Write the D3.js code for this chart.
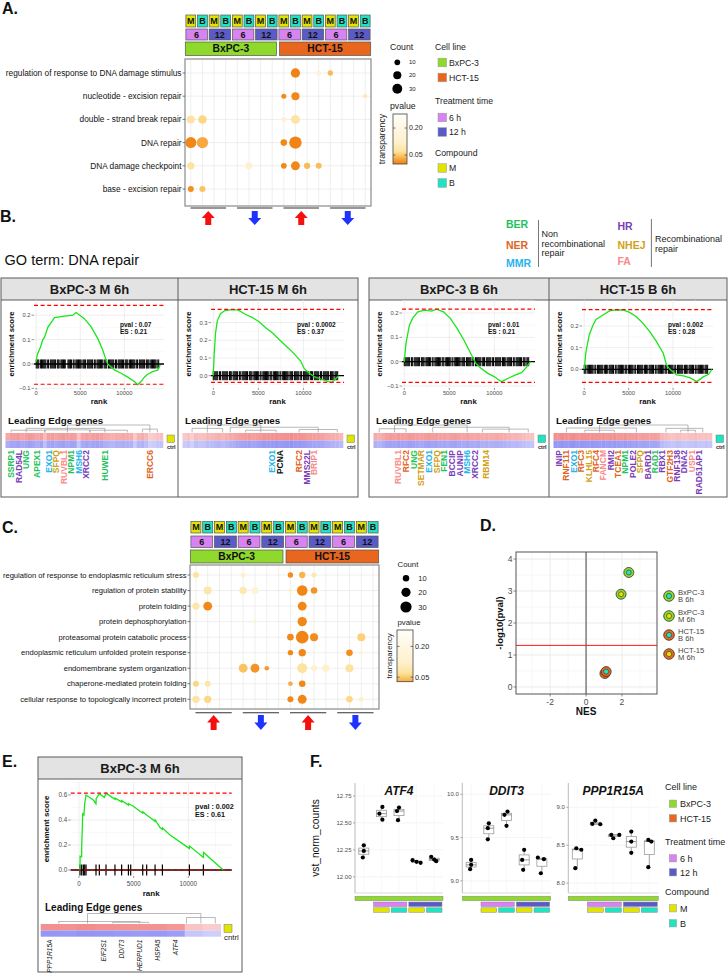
<!DOCTYPE html>
<html><head><meta charset="utf-8">
<script src="https://cdn.jsdelivr.net/npm/d3@7/dist/d3.min.js"></script>
<style>
html,body{margin:0;padding:0;background:#fff;}
svg{display:block;font-family:"Liberation Sans",Arial,Helvetica,sans-serif;}
</style></head><body>
<svg id="fig" width="728" height="975"></svg>
<script>
// ================= DATA =================
const compounds = ["M","B","M","B","M","B","M","B","M","B","M","B","M","B","M","B"];
const times = ["6","6","12","12","6","6","12","12","6","6","12","12","6","6","12","12"];
const cellLines = ["BxPC-3","BxPC-3","BxPC-3","BxPC-3","BxPC-3","BxPC-3","BxPC-3","BxPC-3",
                   "HCT-15","HCT-15","HCT-15","HCT-15","HCT-15","HCT-15","HCT-15","HCT-15"];
const directions = ["up","up","up","up","down","down","down","down","up","up","up","up","down","down","down","down"];

const termsA = ["regulation of response to DNA damage stimulus","nucleotide - excision repair",
  "double - strand break repair","DNA repair","DNA damage checkpoint","base - excision repair"];
const dotsA = [
  [0,9,24,0.003],[0,11,7,0.14],[0,12,8,0.04],
  [1,8,7,0.01],[1,9,18,0.006],[1,15,5,0.09],
  [2,0,18,0.075],[2,1,20,0.06],[2,8,6,0.12],[2,9,22,0.075],
  [3,0,34,0.006],[3,1,36,0.028],[3,8,12,0.008],[3,9,43,0.004],
  [4,0,15,0.07],[4,5,14,0.13],[4,8,9,0.008],[4,9,22,0.006],[4,10,11,0.04],[4,11,10,0.042],
  [5,0,10,0.012],[5,1,10,0.045]
];
const termsC = ["regulation of response to endoplasmic reticulum stress","regulation of protein stability",
  "protein folding","protein dephosphorylation","proteasomal protein catabolic process",
  "endoplasmic reticulum unfolded protein response","endomembrane system organization",
  "chaperone-mediated protein folding","cellular response to topologically incorrect protein"];
const dotsC = [
  [0,0,10,0.07],[0,4,7,0.12],[0,8,8,0.01],[0,9,11,0.035],[0,10,7,0.09],
  [1,1,18,0.08],[1,4,15,0.09],[1,5,14,0.15],[1,8,4,0.12],[1,9,31,0.005],[1,10,12,0.015],
  [2,0,15,0.08],[2,1,22,0.008],[2,9,22,0.006],
  [3,5,4,0.15],[3,9,24,0.006],
  [4,8,12,0.008],[4,9,44,0.004],[4,10,18,0.01],[4,14,18,0.055],
  [5,8,8,0.008],[5,9,15,0.006],[5,13,12,0.012],[5,14,4,0.14],
  [6,4,22,0.045],[6,5,22,0.015],[6,6,6,0.02],[6,9,28,0.07],[6,10,10,0.13],[6,11,15,0.13],[6,13,18,0.07],
  [7,0,10,0.06],[7,1,10,0.08],[7,8,6,0.03],[7,9,12,0.008],
  [8,0,15,0.075],[8,1,15,0.06],[8,8,10,0.008],[8,9,22,0.006],[8,13,12,0.06],[8,14,7,0.12]
];
const countBreaks = [10,20,30];
const pvalBreaks = [0.20,0.05];
const legendCell = ["BxPC-3","HCT-15"];
const legendTime = [["6 h","6"],["12 h","12"]];
const legendComp = ["M","B"];

const repairNonRec = ["BER","NER","MMR"];
const repairRec = ["HR","NHEJ","FA"];
const gseaTitles = ["BxPC-3 M 6h","HCT-15 M 6h","BxPC-3 B 6h","HCT-15 B 6h"];
const gseaPval = ["0.07","0.0002","0.01","0.002"];
const gseaES = ["0.21","0.37","0.21","0.28"];
const rankTicks = [0,5000,10000];
const curveBM = [[0,0.01],[110,0.037],[490,0.07],[750,0.1],[950,0.11],[1320,0.15],[2080,0.19],[3000,0.195],
  [4150,0.2],[4530,0.211],[5470,0.186],[6230,0.152],[6980,0.105],[7550,0.057],[7930,0.016],[8120,0],
  [8870,-0.024],[9630,-0.038],[10380,-0.054],[11140,-0.072],[11510,-0.085],[11890,-0.072],[12270,-0.054],
  [12650,-0.042],[13210,-0.031],[13780,-0.025],[14080,-0.004]];
const curveHM = [[0,0],[100,0.12],[250,0.24],[450,0.31],[800,0.35],[1300,0.368],[2100,0.373],[2800,0.37],
  [3540,0.347],[4300,0.33],[5080,0.305],[5850,0.27],[6620,0.24],[7390,0.2],[8160,0.164],[8930,0.126],
  [9700,0.083],[10080,0.041],[10660,0.013],[11230,-0.006],[12000,-0.02],[12770,-0.034],[13160,-0.038],
  [13540,-0.02],[13900,0]];
const curveBB = [[0,0],[190,0.075],[570,0.15],[950,0.18],[1510,0.205],[2270,0.212],[3030,0.208],[3590,0.216],
  [4350,0.205],[5110,0.178],[5860,0.137],[6610,0.089],[7370,0.034],[7940,-0.007],[8510,-0.027],[9270,-0.048],
  [10020,-0.062],[10770,-0.082],[11530,-0.068],[12280,-0.055],[13040,-0.044],[13610,-0.02],[13990,0]];
const curveHB = [[0,0],[190,0.08],[570,0.16],[950,0.2],[1320,0.23],[2080,0.25],[2840,0.27],[3600,0.274],
  [4350,0.274],[5120,0.263],[5870,0.243],[6620,0.212],[7380,0.174],[8140,0.128],[8900,0.074],[9270,0.02],
  [9650,0],[10410,-0.026],[11170,-0.03],[11930,-0.04],[12680,-0.057],[13450,-0.034],[14010,-0.023],[14380,0]];
const hitsBM = "0-3,5-11,13-14,16-22,24-26,28-33,36-40,42-43,45-51,53-56,58-64,66-67,69-75,77-80,82-88,90-91,93-99,101-104,106-112,114-115,117-123,125-128,130-136,138-139";
const hitsHM = "0-5,7-8,10-16,18-20,22-27,29-30,32-38,40-43,45-50,52-53,55-61,63-65,67-72,74-75,77-83,85-88,90-95,97-98,100-106,108-110,112-117,119-120,122-128,130-133,135-138";
const hitsBB = "0-6,8-9,11-17,19-22,24-29,31-32,34-40,42-44,46-51,53-54,56-62,64-67,69-74,76-77,79-85,87-89,91-96,98-99,101-107,109-112,114-119,121-122,124-130,132-134,136-138";
const hitsHB = "0-2,4-10,12-13,15-21,23-26,28-33,35-36,38-44,46-48,50-55,57-58,60-66,68-71,73-78,80-81,83-89,91-93,95-100,102-103,105-111,113-116,118-123,125-126,128-134,136-139";
const dashBM = [0.24,-0.083], dashHM = [0.375,-0.038], dashBB = [0.216,-0.085], dashHB = [0.276,-0.06];
const yLimBM = [-0.0984,0.2623], yLimHM = [-0.0695,0.4277], yLimBB = [-0.108,0.2534], yLimHB = [-0.0864,0.3201];
const yTicksBM = [-0.1,0,0.1,0.2], yTicksHM = [0,0.1,0.2,0.3], yTicksBB = [-0.1,0,0.1,0.2], yTicksHB = [0,0.1,0.2];
const genesBM = [["SSRP1",1,"BER"],["RAD54L",3,"HR"],["UNG",5,"BER"],["APEX1",8,"BER"],["EXO1",11,"MMR"],
  ["SFPQ",13,"NHEJ"],["RUVBL1",15,"FA"],["NPM1",17,"BER"],["MSH6",19,"MMR"],["XRCC2",21,"HR"],
  ["HUWE1",26,"BER"],["ERCC6",38,"NER"]];
const genesHM = [["EXO1",23,"MMR"],["PCNA",25,null],["RFC2",30,"NER"],["MMS22L",32,"HR"],["BRIP1",34,"FA"]];
const genesBB = [["RUVBL1",6,"FA"],["RFC2",8,"NER"],["UNG",10,"BER"],["SETMAR",12,"NHEJ"],["EXO1",14,"MMR"],
  ["SFPQ",16,"NHEJ"],["FEN1",18,"BER"],["BCCIP",20,"HR"],["AUNIP",22,"HR"],["MSH6",24,"MMR"],
  ["XRCC2",26,"HR"],["RBM14",29,"NHEJ"]];
const genesHB = [["INIP",1,"HR"],["RNF111",3,"NER"],["EXO1",5,"MMR"],["RFC3",7,"NER"],["KLHL15",9,"NHEJ"],
  ["RFC4",11,"NER"],["FANCM",13,"FA"],["RMI2",15,"HR"],["TCEA1",17,"NER"],["NPM1",19,"BER"],
  ["POLE2",21,"HR"],["SFPQ",23,"NHEJ"],["BARD1",25,"HR"],["RAD1",27,"BER"],["RBX1",29,"HR"],
  ["GTF2H3",31,"NER"],["RNF138",33,"HR"],["DNA2",35,"HR"],["USP1",37,"FA"],["RAD51AP1",39,"HR"]];
const heatBM = [.62,.7,.68,.72,.66,.7,.74,.7,.64,.7,.45,.68,.72,.66,.7,.74,.68,.72,.7,.4,.66,.7,.64,.7,.72,.68,.6,.58,.55,.6,.58,.62,.6,.58,.35,.55,.58,.48,.3,.34,.4,.42];
const heatHM = [.35,.4,.3,.45,.4,.42,.5,.48,.52,.55,.5,.55,.6,.62,.66,.7,.72,.75,.7,.72,.75,.8,.78,.8,.82,.78,.8,.82,.85,.8,.8,.78,.75,.72,.7,.7,.68,.62,.6,.58,.55,.5];
const heatBB = [.6,.55,.62,.7,.72,.7,.74,.72,.7,.75,.72,.7,.68,.72,.74,.7,.72,.68,.7,.66,.7,.72,.68,.66,.7,.64,.62,.66,.6,.62,.58,.6,.62,.6,.58,.55,.5,.52,.48,.45,.42,.4];
const heatHB = [.82,.8,.84,.8,.82,.85,.8,.82,.8,.78,.82,.8,.78,.8,.76,.78,.8,.76,.74,.78,.75,.72,.74,.7,.72,.7,.68,.7,.66,.5,.45,.42,.4,.45,.42,.38,.4,.42,.45,.4,.38,.42,.4];
const dendBM = [[16,38,1],[5,26,0.55],[36,40,0.45],[1,10,0.3],[10,22,0.35],[22,32,0.3]];
const dendHM = [[6,20,1],[2,10,0.55],[12,35,0.7],[30,40,0.4],[16,24,0.3]];
const dendBB = [[5,24,1],[1,8,0.5],[15,35,0.7],[28,40,0.45]];
const dendHB = [[12,36,1],[3,22,0.6],[30,40,0.55],[8,16,0.3],[34,38,0.3]];

const dNames = [["BxPC-3","B 6h"],["BxPC-3","M 6h"],["HCT-15","B 6h"],["HCT-15","M 6h"]];
const dCell = ["BxPC-3","BxPC-3","HCT-15","HCT-15"];
const dComp = ["B","M","B","M"];
const dNES = [2.38,1.95,1.12,1.05];
const dLogP = [3.58,2.9,0.48,0.42];
const dThreshold = 1.3;
const dXTicks = [-2,0,2], dYTicks = [0,1,2,3,4];

const eTitle = "BxPC-3 M 6h", ePval = "0.002", eES = "0.61";
const curveE = [[0,0],[90,0.005],[100,0.11],[240,0.105],[250,0.2],[300,0.33],[340,0.45],[450,0.44],[520,0.53],
  [640,0.6],[1310,0.56],[1555,0.53],[1570,0.57],[1860,0.61],[2320,0.58],[2470,0.615],[3290,0.565],[3300,0.575],
  [3900,0.545],[3910,0.555],[4520,0.52],[4530,0.53],[4970,0.51],[5580,0.47],[5830,0.455],[5840,0.465],
  [6190,0.44],[6960,0.39],[6970,0.4],[7410,0.34],[7630,0.325],[7640,0.335],[8330,0.28],[9850,0.187],
  [10100,0.172],[10110,0.192],[11380,0.1],[11390,0.14],[13200,0]];
const hitsE = [90,245,400,520,640,1555,1860,2470,3290,3900,4520,4730,5830,6190,6960,7630,10100,11380];
const dashE = [0.615,0];
const yTicksE = [0,0.2,0.4,0.6];
const genesE = [["PPP1R15A",0],["EIF2S1",3],["DDIT3",4],["HERPUD1",5],["HSPA5",6],["ATF4",7]];
const heatE = [.82,.8,.84,.82,.8,.78,.8,.76,.38,.32];
const dendE = [[2.1,8.4,1],[0.5,5,0.2],[7.6,9.2,0.6],[3.5,5.5,0.12]];

const fGenes = ["ATF4","DDIT3","PPP1R15A"];
const fGroups = ["ctrl","M 6h","B 6h","M 12h","B 12h"];
const fTime = [null,"6","6","12","12"];
const fComp = [null,"M","B","M","B"];
const fATF4 = [[12.293,12.24,12.179],[12.648,12.586,12.53],[12.642,12.61,12.525],[12.154,12.139,12.13],[12.185,12.16,12.145]];
const fDDIT3 = [[9.242,9.185,9.135],[9.665,9.608,9.48],[9.8,9.762,9.635],[9.358,9.242,9.127],[9.27,9.25,9.088]];
const fPPP = [[8.46,8.44,8.197],[8.78,8.825,8.776],[8.636,8.592,8.636],[8.68,8.548,8.4],[8.57,8.548,8.21]];
const jATF4 = [[0,0,-1],[1,-2,1],[0,-2,-1],[-4,0,4],[-3,0,2]];
const jDDIT3 = [[0,0,-1],[0,-1,-1],[1,-2,0],[0,-2,-1],[-4,2,-1]];
const jPPP = [[-1,4,-2],[-3,0,5],[-2,0,6],[0,0,0],[-1,2,-1]];
const fTicksATF4 = [12.00,12.25,12.50,12.75], fTicksDDIT3 = [9.0,9.5,10.0], fTicksPPP = [8.0,8.5,9.0];
const fLimATF4 = [11.85,12.87], fLimDDIT3 = [8.86,10.13], fLimPPP = [7.87,9.32];

// ================= STYLE =================
const COL = {M:"#e1e300",B:"#20e3c2","6":"#d883f2","12":"#5b5bc8","BxPC-3":"#8ed92c","HCT-15":"#e8661e",
  BER:"#1ec25a",NER:"#e0641e",MMR:"#23b4ee",HR:"#7a3db8",NHEJ:"#d29f18",FA:"#f98a8a"};
const rScale = d3.scaleSqrt().domain([0,50]).range([0,6.7]);
const pColor = d3.scaleLinear().domain([0,0.01,0.03,0.05,0.07,0.12,0.28])
  .range(["#ef7f10","#f28c1c","#f7ab45","#fbcb6c","#fde3a0","#fff0cc","#fffefa"]).clamp(true);

const svg = d3.select("#fig");

function T(g,x,y,s,o={}){
  const t = g.append("text").attr("x",x).attr("y",y).text(s)
    .attr("font-size",o.size||8).attr("fill",o.fill||"#000")
    .attr("font-weight",o.bold?"bold":"normal").attr("text-anchor",o.anchor||"start");
  if(o.italic) t.attr("font-style","italic");
  if(o.rotate!=null) t.attr("transform",`rotate(${o.rotate},${x},${y})`);
  return t;
}
function L(g,x1,y1,x2,y2,stroke,w,dash){
  const l = g.append("line").attr("x1",x1).attr("y1",y1).attr("x2",x2).attr("y2",y2)
    .attr("stroke",stroke).attr("stroke-width",w);
  if(dash) l.attr("stroke-dasharray",dash);
  return l;
}
function runs(arr){
  const out=[];
  arr.forEach((v,i)=>{ if(v==null) return; const last=out[out.length-1];
    if(last && last.v===v && last.end===i-1) last.end=i; else out.push({v,start:i,end:i}); });
  return out;
}
function parseRanges(s){
  const out=[]; s.split(",").forEach(p=>{ const [a,b]=p.split("-").map(Number);
    for(let v=a; v<=(isNaN(b)?a:b); v++) out.push(v*100); }); return out;
}
function arrow(g,cx,top,bot,w,dir,color){
  const h=bot-top, hh=h*0.5, sw=w*0.46;
  let pts=[[0,0],[w/2,hh],[sw/2,hh],[sw/2,h],[-sw/2,h],[-sw/2,hh],[-w/2,hh]];
  if(dir==="down") pts=pts.map(([a,b])=>[a,h-b]);
  g.append("path").attr("d",d3.line()(pts.map(([a,b])=>[cx+a,top+b]))+"Z").attr("fill",color);
}

const gL = svg.append("g");
[["A.",2,14],["B.",0,222],["C.",2,533],["D.",480,531],["E.",2,767],["F.",310,767]]
  .forEach(([s,x,y])=>T(gL,x,y,s,{size:16,bold:true,fill:"#111"}));

// ================= DOT PLOTS (A, C) =================
function dotPlot(o){
  const g = svg.append("g");
  const x = d3.scaleBand().domain(d3.range(compounds.length)).range([o.x0,o.x1]);
  const bw = x.bandwidth(), cx = i=>x(i)+bw/2;
  const y = d3.scalePoint().domain(o.terms).range([o.yFirst,o.yLast]);
  compounds.forEach((c,i)=>{
    g.append("rect").attr("x",x(i)+0.9).attr("y",o.hMB[0]).attr("width",bw-1.8).attr("height",o.hMB[1]-o.hMB[0])
      .attr("fill",COL[c]).attr("stroke","#555").attr("stroke-width",0.7);
    T(g,cx(i),(o.hMB[0]+o.hMB[1])/2+3.2,c,{size:9,bold:true,anchor:"middle",fill:"#111"});
  });
  runs(times).forEach(r=>{
    const xa=x(r.start)+0.9, xb=x(r.end)+bw-0.9;
    g.append("rect").attr("x",xa).attr("y",o.hT[0]).attr("width",xb-xa).attr("height",o.hT[1]-o.hT[0])
      .attr("fill",COL[r.v]).attr("stroke","#555").attr("stroke-width",0.7);
    T(g,(xa+xb)/2,(o.hT[0]+o.hT[1])/2+3.2,r.v,{size:9,bold:true,anchor:"middle",fill:"#111"});
  });
  runs(cellLines).forEach(r=>{
    const xa=x(r.start)+(r.start===0?0.3:1.5), xb=x(r.end)+bw-(r.end===compounds.length-1?0.3:1.5);
    g.append("rect").attr("x",xa).attr("y",o.hC[0]).attr("width",xb-xa).attr("height",o.hC[1]-o.hC[0])
      .attr("fill",COL[r.v]).attr("stroke","#555").attr("stroke-width",0.7);
    T(g,(xa+xb)/2,(o.hC[0]+o.hC[1])/2+3.6,r.v,{size:10.3,bold:true,anchor:"middle",fill:"#111"});
  });
  g.append("rect").attr("x",o.x0).attr("y",o.yTop).attr("width",o.x1-o.x0).attr("height",o.yBot-o.yTop).attr("fill","#fff");
  d3.range(compounds.length).forEach(i=>L(g,cx(i),o.yTop,cx(i),o.yBot,"#e8e8e8",0.7));
  o.terms.forEach(t=>L(g,o.x0,y(t),o.x1,y(t),"#e8e8e8",0.7));
  g.selectAll("circle.dot").data(o.dots.slice().sort((a,b)=>b[2]-a[2])).join("circle")
    .attr("cx",d=>cx(d[1])).attr("cy",d=>y(o.terms[d[0]])).attr("r",d=>rScale(d[2]))
    .attr("fill",d=>pColor(d[3]));
  g.append("rect").attr("x",o.x0).attr("y",o.yTop).attr("width",o.x1-o.x0).attr("height",o.yBot-o.yTop)
    .attr("fill","none").attr("stroke","#8a8a8a").attr("stroke-width",1.2);
  o.terms.forEach(t=>{
    L(g,o.x0-2.5,y(t),o.x0,y(t),"#444",0.7);
    T(g,o.x0-3.5,y(t)+o.lab*0.35,t,{size:o.lab,anchor:"end",fill:"#111"});
  });
  runs(directions).forEach(r=>{
    const xa=x(r.start)+5.5, xb=x(r.end)+bw-5.5;
    L(g,xa,o.arrLine,xb,o.arrLine,"#333",1.1);
    arrow(g,(xa+xb)/2,o.arr[0],o.arr[1],13,r.v,r.v==="up"?"#f5100f":"#1f33ff");
  });
}
dotPlot({x0:185,x1:371,yTop:59,yBot:206,yFirst:73,yLast:189,terms:termsA,dots:dotsA,lab:8.3,
  hMB:[15,27],hT:[29,40],hC:[42,55.5],arrLine:208,arr:[211,225]});
dotPlot({x0:190,x1:379,yTop:565,yBot:709,yFirst:575,yLast:699.3,terms:termsC,dots:dotsC,lab:7.6,
  hMB:[521.5,533],hT:[536,547.5],hC:[550,563],arrLine:712.7,arr:[715,730]});

let gradN=0;
function sizePLegend(o){
  const g = svg.append("g");
  T(g,o.x,o.countY,"Count",{size:o.fs,fill:"#222"});
  countBreaks.forEach((c,i)=>{
    g.append("circle").attr("cx",o.dotX).attr("cy",o.dotY[i]).attr("r",rScale(c)*o.rk).attr("fill","#000");
    T(g,o.labX,o.dotY[i]+o.sfs*0.35,c,{size:o.sfs,fill:"#222"});
  });
  T(g,o.x,o.pvY,"pvalue",{size:o.fs,fill:"#222"});
  const id="grad"+(gradN++);
  const grad = svg.append("defs").append("linearGradient").attr("id",id).attr("x1",0).attr("y1",0).attr("x2",0).attr("y2",1);
  d3.range(0,1.0001,0.05).forEach(t=>{
    const p = o.pDom[0]+(o.pDom[1]-o.pDom[0])*t;
    grad.append("stop").attr("offset",t).attr("stop-color",pColor(p));
  });
  const b=o.bar;
  g.append("rect").attr("x",b.x).attr("y",b.y).attr("width",b.w).attr("height",b.h).attr("fill",`url(#${id})`)
    .attr("stroke","#444").attr("stroke-width",0.8);
  const py = d3.scaleLinear().domain(o.pDom).range([b.y,b.y+b.h]);
  pvalBreaks.forEach(p=>{
    L(g,b.x,py(p),b.x+2.5,py(p),"#555",0.8); L(g,b.x+b.w-2.5,py(p),b.x+b.w,py(p),"#555",0.8);
    T(g,b.x+b.w+2,py(p)+2.4,p.toFixed(2),{size:o.tfs,fill:"#222"});
  });
  T(g,o.transX,b.y+b.h/2,"transparency",{size:o.fs,anchor:"middle",rotate:-90,fill:"#222"});
}
sizePLegend({x:390,countY:50,dotX:397.3,dotY:[62.3,75.3,88.7],labX:409,fs:8.7,sfs:6,pvY:109,rk:0.95,
  pDom:[0.278,0],bar:{x:393,y:114,w:14,h:50},tfs:7,transX:384.5});
sizePLegend({x:397.5,countY:567,dotX:406,dotY:[578.3,592.3,607],labX:418.3,fs:7.8,sfs:7.5,pvY:624.5,rk:1.08,
  pDom:[0.28,0.028],bar:{x:397,y:630,w:16,h:51.7},tfs:7.3,transX:392});

function keyLegend(o){
  const g = svg.append("g");
  const secs = [["Cell line",legendCell.map(c=>[c,COL[c]])],
                ["Treatment time",legendTime.map(([l,k])=>[l,COL[k]])],
                ["Compound",legendComp.map(c=>[c,COL[c]])]];
  secs.forEach(([title,items],si)=>{
    T(g,o.x,o.titleY[si],title,{size:o.fs,fill:"#222"});
    items.forEach(([lab,c],ii)=>{
      const cy=o.itemY[si][ii];
      g.append("rect").attr("x",o.swX).attr("y",cy-o.sw/2).attr("width",o.sw).attr("height",o.sw)
        .attr("fill",c).attr("stroke","#999").attr("stroke-width",0.5);
      T(g,o.labX,cy+o.fs*0.36,lab,{size:o.fs,fill:"#222"});
    });
  });
}
keyLegend({x:435,swX:438,sw:8.6,labX:449,fs:8.7,titleY:[50,104,155.7],itemY:[[62.5,77.5],[117.5,132],[168,183]]});

// ================= PANEL B =================
const gB = svg.append("g");
T(gB,4.6,265,"GO term: DNA repair",{size:14.5,fill:"#111"});
repairNonRec.forEach((k,i)=>T(gB,506,[228,248.7,267][i],k,{size:10.5,bold:true,fill:COL[k]}));
repairRec.forEach((k,i)=>T(gB,617.5,[230.4,248.7,265.4][i],k,{size:10.5,bold:true,fill:COL[k]}));
L(gB,538.5,220,538.5,267,"#555",0.8); L(gB,651.4,219,651.4,267,"#555",0.8);
["Non","recombinational","repair"].forEach((s,i)=>T(gB,541.5,[237,246.5,256][i],s,{size:9,fill:"#222"}));
["Recombinational","repair"].forEach((s,i)=>T(gB,655,[242,251.5][i],s,{size:9,fill:"#222"}));

function enrich(o){
  const g = svg.append("g");
  const x = d3.scaleLinear().domain(o.xDom).range([o.pl,o.pr]);
  const y = d3.scaleLinear().domain(o.yDom).range([o.pb,o.pt]);
  const step = o.yTicks[1]-o.yTicks[0];
  const minors = [o.yTicks[0]-step/2,...o.yTicks.map(v=>v+step/2)].filter(v=>v>o.yDom[0]&&v<o.yDom[1]);
  minors.forEach(v=>L(g,o.pl,y(v),o.pr,y(v),"#f2f2f2",0.5));
  [2500,7500,12500].forEach(v=>{ if(v<o.xDom[1]) L(g,x(v),o.pt,x(v),o.pb,"#f2f2f2",0.5); });
  o.yTicks.forEach(v=>L(g,o.pl,y(v),o.pr,y(v),"#e6e6e6",0.7));
  rankTicks.forEach(v=>L(g,x(v),o.pt,x(v),o.pb,"#e6e6e6",0.7));
  g.selectAll("line.hit").data(o.hits).join("line")
    .attr("x1",d=>x(d)).attr("x2",d=>x(d)).attr("y1",y(0)-o.hitHalf).attr("y2",y(0)+o.hitHalf)
    .attr("stroke","#000").attr("stroke-width",o.hitW);
  L(g,o.pl,y(0),o.pr,y(0),"#000",1.3);
  g.append("path").datum(o.curve).attr("d",d3.line().x(d=>x(d[0])).y(d=>y(d[1])))
    .attr("fill","none").attr("stroke","#19e619").attr("stroke-width",1.3);
  o.dash.forEach(v=>L(g,o.pl,y(v),o.pr,y(v),"#ff0000",1.2,"4,2.6"));
  const fmt = d3.format(o.fmt);
  o.yTicks.forEach(v=>{ L(g,o.pl-2.5,y(v),o.pl,y(v),"#555",0.6);
    T(g,o.pl-3.5,y(v)+o.tfs*0.36,fmt(v),{size:o.tfs,anchor:"end",fill:"#4d4d4d"}); });
  rankTicks.forEach(v=>{ L(g,x(v),o.pb,x(v),o.pb+2,"#555",0.6);
    T(g,x(v),o.xLabY,v,{size:o.tfs,anchor:"middle",fill:"#4d4d4d"}); });
  T(g,(o.pl+o.pr)/2,o.rankY,"rank",{size:o.afs,bold:true,anchor:"middle",fill:"#111"});
  T(g,o.esX,(o.pt+o.pb)/2,"enrichment score",{size:o.afs,bold:true,anchor:"middle",rotate:-90,fill:"#111"});
  T(g,o.statX,o.statY,"pval : "+o.pval,{size:o.sfs,bold:true,fill:"#111"});
  T(g,o.statX,o.statY+o.sfs*1.1,"ES : "+o.es,{size:o.sfs,bold:true,fill:"#111"});
}
function leading(o){
  const g = svg.append("g");
  T(g,o.titleX,o.titleY,"Leading Edge genes",{size:o.tsz,bold:true,fill:"#111"});
  const n=o.heat.length, cw=(o.hx1-o.hx0)/n;
  const xc = i=>o.hx0+(i+0.5)*cw;
  o.heat.forEach((v,i)=>{
    g.append("rect").attr("x",o.hx0+i*cw).attr("y",o.rows[0]).attr("width",cw+0.3).attr("height",o.rows[1]-o.rows[0])
      .attr("fill",d3.interpolateRgb("#fff2f2","#f07a7a")(v));
    g.append("rect").attr("x",o.hx0+i*cw).attr("y",o.rows[1]).attr("width",cw+0.3).attr("height",o.rows[2]-o.rows[1])
      .attr("fill",d3.interpolateRgb("#f2f2ff","#8282f2")(v));
  });
  o.dend.forEach(([a,b,h])=>{
    const yy=o.rows[0]-0.5-(o.dendH)*h;
    g.append("path").attr("d",`M${xc(a)},${o.rows[0]-0.5}V${yy}H${xc(b)}V${o.rows[0]-0.5}`)
      .attr("fill","none").attr("stroke","#8c8c8c").attr("stroke-width",0.6);
  });
  g.append("rect").attr("x",o.mk.x).attr("y",o.mk.y).attr("width",o.mk.s).attr("height",o.mk.s)
    .attr("fill",o.mk.c).attr("stroke","#777").attr("stroke-width",0.5);
  T(g,o.mk.lx,o.mk.ly,o.mk.label,{size:o.mk.fs,bold:o.mk.bold,fill:"#222"});
  o.genes.forEach(([s,i,cat])=>{
    T(g,xc(i)+o.gfs*0.36,o.labTop,s,{size:o.gfs,bold:o.gbold,italic:o.gital,anchor:"end",rotate:-90,
      fill:cat?COL[cat]:"#111"});
  });
}
const bPanels = [
  {x0:1,x1:178,curve:curveBM,hits:hitsBM,dash:dashBM,yDom:yLimBM,yTicks:yTicksBM,genes:genesBM,heat:heatBM,dend:dendBM,comp:"M"},
  {x0:178,x1:358,curve:curveHM,hits:hitsHM,dash:dashHM,yDom:yLimHM,yTicks:yTicksHM,genes:genesHM,heat:heatHM,dend:dendHM,comp:"M"},
  {x0:369,x1:549,curve:curveBB,hits:hitsBB,dash:dashBB,yDom:yLimBB,yTicks:yTicksBB,genes:genesBB,heat:heatBB,dend:dendBB,comp:"B"},
  {x0:549,x1:727,curve:curveHB,hits:hitsHB,dash:dashHB,yDom:yLimHB,yTicks:yTicksHB,genes:genesHB,heat:heatHB,dend:dendHB,comp:"B"}
];
[[1,358,178],[369,727,549]].forEach(([a,b,m])=>{
  gB.append("rect").attr("x",a).attr("y",278).attr("width",b-a).attr("height",22).attr("fill","#e3e3e3");
  gB.append("rect").attr("x",a).attr("y",278).attr("width",b-a).attr("height",219).attr("fill","none")
    .attr("stroke","#5a5a5a").attr("stroke-width",1);
  L(gB,a,300,b,300,"#5a5a5a",1); L(gB,m,278,m,497,"#5a5a5a",1);
});
bPanels.forEach((p,i)=>{
  T(gB,(p.x0+p.x1)/2,293.6,gseaTitles[i],{size:13,bold:true,anchor:"middle",fill:"#1a1a1a"});
  enrich({pl:p.x0+33,pr:p.x1-14,pt:300,pb:388,xDom:[-250,14500],yDom:p.yDom,yTicks:p.yTicks,
    curve:p.curve,hits:parseRanges(p.hits),hitHalf:4.5,hitW:1,dash:p.dash,fmt:".1f",tfs:5.8,
    xLabY:394.8,rankY:404,afs:7.8,esX:p.x0+13,statX:p.x0+119,statY:327,sfs:6.5,pval:gseaPval[i],es:gseaES[i]});
  leading({titleX:p.x0+7,titleY:424,tsz:9.8,hx0:p.x0+4.5,hx1:p.x1-15,rows:[433,440.5,448],heat:p.heat,dend:p.dend,dendH:7.5,
    mk:{x:p.x1-11,y:435,s:7.5,c:COL[p.comp],lx:p.x1-11,ly:448.5,label:"ctrl",fs:5.5,bold:true},
    genes:p.genes,gfs:8.5,gbold:true,gital:false,labTop:450});
});

// ================= PANEL D =================
(function(){
  const g = svg.append("g");
  const pl=516,pr=657,pt=552,pb=694;
  const x = d3.scaleLinear().domain([-3.9,3.95]).range([pl,pr]);
  const y = d3.scaleLinear().domain([-0.22,4.22]).range([pb,pt]);
  [-3,-1,1,3].forEach(v=>L(g,x(v),pt,x(v),pb,"#f2f2f2",0.6));
  [0.5,1.5,2.5,3.5].forEach(v=>L(g,pl,y(v),pr,y(v),"#f2f2f2",0.6));
  dXTicks.forEach(v=>L(g,x(v),pt,x(v),pb,"#e6e6e6",0.8));
  dYTicks.forEach(v=>L(g,pl,y(v),pr,y(v),"#e6e6e6",0.8));
  L(g,x(0),pt,x(0),pb,"#333",0.9);
  L(g,pl,y(dThreshold),pr,y(dThreshold),"#ff1a1a",1);
  g.append("rect").attr("x",pl).attr("y",pt).attr("width",pr-pl).attr("height",pb-pt).attr("fill","none")
    .attr("stroke","#555").attr("stroke-width",1);
  d3.range(dNES.length).reverse().forEach(i=>{
    g.append("circle").attr("cx",x(dNES[i])).attr("cy",y(dLogP[i])).attr("r",5).attr("fill",COL[dCell[i]])
      .attr("stroke","#333").attr("stroke-width",0.8);
    g.append("circle").attr("cx",x(dNES[i])).attr("cy",y(dLogP[i])).attr("r",2.5).attr("fill",COL[dComp[i]])
      .attr("stroke","#333").attr("stroke-width",0.6);
  });
  dXTicks.forEach(v=>{ L(g,x(v),pb,x(v),pb+2.5,"#555",0.7);
    T(g,x(v),704.5,v<0?"-"+Math.abs(v):v,{size:8.5,anchor:"middle",fill:"#4d4d4d"}); });
  dYTicks.forEach(v=>{ L(g,pl-2.5,y(v),pl,y(v),"#555",0.7);
    T(g,pl-3.5,y(v)+3,v,{size:8.5,anchor:"end",fill:"#4d4d4d"}); });
  T(g,x(0),715,"NES",{size:10,bold:true,anchor:"middle",fill:"#111"});
  T(g,503,(pt+pb)/2,"-log10(pval)",{size:9.5,bold:true,anchor:"middle",rotate:-90,fill:"#111"});
  const ly=[596,616,635,654];
  dNames.forEach((nm,i)=>{
    g.append("circle").attr("cx",669).attr("cy",ly[i]).attr("r",5.3).attr("fill",COL[dCell[i]]).attr("stroke","#333").attr("stroke-width",0.8);
    g.append("circle").attr("cx",669).attr("cy",ly[i]).attr("r",2.6).attr("fill",COL[dComp[i]]).attr("stroke","#333").attr("stroke-width",0.6);
    T(g,678,ly[i]-1.2,nm[0],{size:7.6,fill:"#444"});
    T(g,678,ly[i]+6.2,nm[1],{size:7.6,fill:"#444"});
  });
})();

// ================= PANEL E =================
(function(){
  const g = svg.append("g");
  g.append("rect").attr("x",38).attr("y",757).attr("width",204).attr("height",22).attr("fill","#e3e3e3");
  g.append("rect").attr("x",38).attr("y",757).attr("width",204).attr("height",215).attr("fill","none")
    .attr("stroke","#5a5a5a").attr("stroke-width",1);
  L(g,38,779,242,779,"#5a5a5a",1);
  T(g,140,772.5,eTitle,{size:13,bold:true,anchor:"middle",fill:"#1a1a1a"});
  enrich({pl:70.7,pr:231.7,pt:782,pb:876,xDom:[-760,13970],yDom:[-0.048,0.704],yTicks:yTicksE,
    curve:curveE,hits:hitsE,hitHalf:5.5,hitW:1.2,dash:dashE,fmt:".1f",tfs:6.3,
    xLabY:885.5,rankY:896,afs:8,esX:48.5,statX:195,statY:809,sfs:7.2,pval:ePval,es:eES});
  leading({titleX:45,titleY:911,tsz:10,hx0:40.7,hx1:220.7,rows:[924,930.5,936.7],heat:heatE,dend:dendE,dendH:10,
    mk:{x:224,y:924.5,s:8,c:COL.M,lx:224,ly:939.8,label:"cntrl",fs:7.8,bold:false},
    genes:genesE.map(([s,i])=>[s,i,null]),gfs:6.6,gbold:false,gital:true,labTop:939.5});
})();

// ================= PANEL F =================
(function(){
  const g = svg.append("g");
  T(g,319,838,"vst_norm_counts",{size:10.2,anchor:"middle",rotate:-90,fill:"#111"});
  const cfg = [
    {x0:355,x1:443,vals:fATF4,jit:jATF4,ticks:fTicksATF4,dom:fLimATF4,fmt:".2f"},
    {x0:462.3,x1:550.7,vals:fDDIT3,jit:jDDIT3,ticks:fTicksDDIT3,dom:fLimDDIT3,fmt:".1f"},
    {x0:568.3,x1:658.3,vals:fPPP,jit:jPPP,ticks:fTicksPPP,dom:fLimPPP,fmt:".1f"}
  ];
  cfg.forEach((c,gi)=>{
    const x = d3.scaleBand().domain(fGroups).range([c.x0,c.x1]);
    const bw = x.bandwidth();
    const y = d3.scaleLinear().domain(c.dom).range([893,783]);
    c.ticks.forEach(v=>L(g,c.x0,y(v),c.x1,y(v),"#ececec",0.6));
    fGroups.forEach(k=>L(g,x(k)+bw/2,783,x(k)+bw/2,893,"#f3f3f3",0.6));
    L(g,c.x0,783,c.x0,893,"#aaa",0.8); L(g,c.x0,893,c.x1,893,"#d0d0d0",0.8);
    const fmt=d3.format(c.fmt);
    c.ticks.forEach(v=>{ L(g,c.x0-2,y(v),c.x0,y(v),"#777",0.6);
      T(g,c.x0-3.5,y(v)+2.1,fmt(v),{size:6,anchor:"end",fill:"#4d4d4d"}); });
    T(g,(c.x0+c.x1)/2,795,fGenes[gi],{size:12,bold:true,italic:true,anchor:"middle",fill:"#111"});
    c.vals.forEach((vals,i)=>{
      const s=vals.slice().sort(d3.ascending);
      const q1=d3.quantile(s,0.25), med=d3.quantile(s,0.5), q3=d3.quantile(s,0.75);
      const cx=x(fGroups[i])+bw/2;
      L(g,cx,y(s[0]),cx,y(q1),"#8c8c8c",0.8); L(g,cx,y(q3),cx,y(s[s.length-1]),"#8c8c8c",0.8);
      g.append("rect").attr("x",cx-5).attr("y",y(q3)).attr("width",10).attr("height",Math.max(0.5,y(q1)-y(q3)))
        .attr("fill","#fff").attr("stroke","#9a9a9a").attr("stroke-width",0.8);
      L(g,cx-5,y(med),cx+5,y(med),"#8c8c8c",0.9);
      vals.forEach((v,j)=>g.append("circle").attr("cx",cx+c.jit[i][j]).attr("cy",y(v)).attr("r",2.1).attr("fill","#000"));
    });
    const bar=(xa,xb,ya,yb,col)=>g.append("rect").attr("x",xa).attr("y",ya).attr("width",xb-xa).attr("height",yb-ya)
      .attr("fill",col).attr("stroke","#888").attr("stroke-width",0.5);
    bar(c.x0,c.x1,896.2,900.7,COL["BxPC-3"]);
    runs(fTime).forEach(r=>bar(x(fGroups[r.start])+1,x(fGroups[r.end])+bw-1,902,906.5,COL[r.v]));
    fComp.forEach((v,i)=>{ if(v) bar(x(fGroups[i])+1,x(fGroups[i])+bw-1,907.8,912.3,COL[v]); });
  });
})();
keyLegend({x:665,swX:669.3,sw:7.3,labX:680,fs:9,titleY:[790,845,895.3],itemY:[[803.7,818.3],[858.3,872.3],[908.3,923.3]]});
</script></body></html>
